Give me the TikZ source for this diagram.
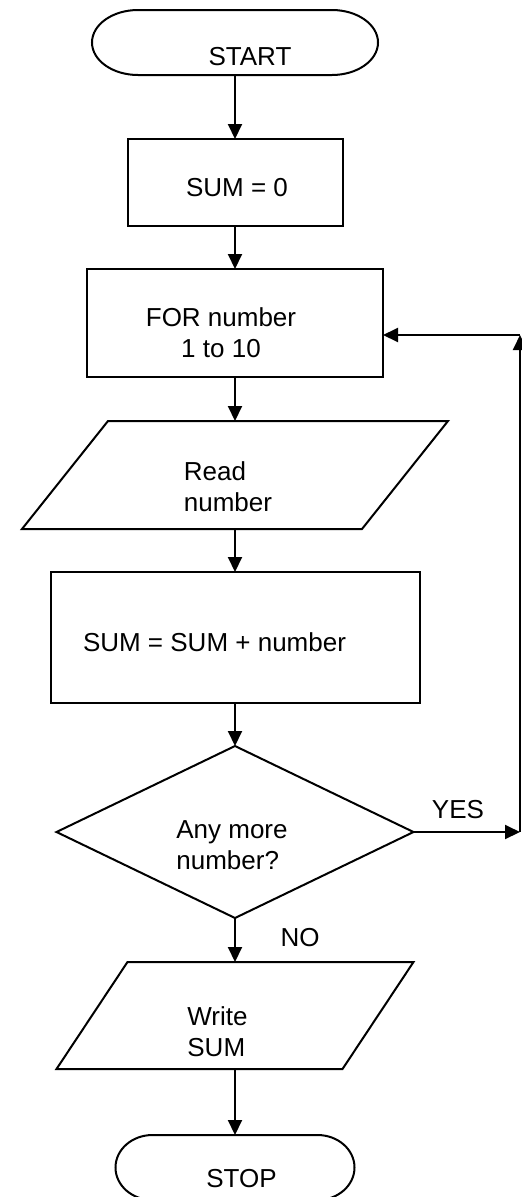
\documentclass[tikz,border=0pt]{standalone}
\usepackage{fontspec}
\setmainfont{Liberation Sans}
\usetikzlibrary{shapes.geometric,arrows.meta}

\tikzset{
  every node/.style={font=\fontsize{26}{31}\selectfont},
  flowline/.style={line width=2pt},
  termbox/.style={rectangle,inner sep=0,outer sep=0},
  procbox/.style={draw,rectangle,line width=2pt,inner sep=0,outer sep=0},
  iobox/.style={rectangle,inner sep=0,outer sep=0},
  decbox/.style={draw,diamond,line width=2pt,inner sep=0,outer sep=0},
}

\begin{document}
\begin{tikzpicture}[x=1pt,y=-1pt,>={Triangle[length=15pt,width=14pt]}]
    \useasboundingbox (0,0) rectangle (522,1197);

    % shapes
    \node[termbox,minimum width=286pt,minimum height=65pt] (start) at (235,42.5) {};
    \draw[flowline] ([xshift=46pt]start.north west) -- ([xshift=-46pt]start.north east)
        arc[start angle=90,end angle=-90,x radius=46pt,y radius=32.5pt]
        -- ([xshift=46pt]start.south west)
        arc[start angle=270,end angle=90,x radius=46pt,y radius=32.5pt] -- cycle;
    \node[procbox,minimum width=215pt,minimum height=87pt] (sumzero) at (235,182.5) {};
    \node[procbox,minimum width=296pt,minimum height=108pt] (fornum) at (235,323) {};
    \node[iobox,minimum width=426pt,minimum height=108pt] (read) at (235,475) {};
    \draw[flowline] (read.south west) -- ([xshift=-86pt]read.south east) -- (read.north east)
        -- ([xshift=86pt]read.north west) -- cycle;
    \node[procbox,minimum width=369pt,minimum height=131pt] (sumadd) at (235,637.5) {};
    \node[decbox,minimum width=357pt,minimum height=172pt] (more) at (235,832) {};
    \node[iobox,minimum width=357pt,minimum height=107pt] (write) at (235,1015.5) {};
    \draw[flowline] (write.south west) -- ([xshift=-71pt]write.south east) -- (write.north east)
        -- ([xshift=71pt]write.north west) -- cycle;
    \node[termbox,minimum width=239pt,minimum height=65pt] (stop) at (235,1167.5) {};
    \draw[flowline] ([xshift=37pt]stop.north west) -- ([xshift=-37pt]stop.north east)
        arc[start angle=90,end angle=-90,x radius=37pt,y radius=32.5pt]
        -- ([xshift=37pt]stop.south west)
        arc[start angle=270,end angle=90,x radius=37pt,y radius=32.5pt] -- cycle;

    % texts
    \node (starttext) at ([shift={(15,14)}]start.center) {START};
    \node (sumzerotext) at ([shift={(2,5)}]sumzero.center) {SUM = 0};
    \node[align=center] (fortext) at ([shift={(-14,10)}]fornum.center) {FOR number\\1 to 10};
    \node[align=left] (readtext) at ([shift={(-7,12)}]read.center) {Read\\number};
    \node (sumaddtext) at ([shift={(-20.5,5)}]sumadd.center) {SUM = SUM + number};
    \node[align=left] (moretext) at ([shift={(-3,13)}]more.center) {Any more\\number?};
    \node[align=left] (writetext) at ([shift={(-17.5,16.5)}]write.center) {Write\\SUM};
    \node (stoptext) at ([shift={(6.5,11.5)}]stop.center) {STOP};
    \node (yes) at (458,810) {YES};
    \node (no) at (300,937.5) {NO};

    % connectors
    \coordinate (yesend) at (520,832);
    \coordinate (looptop) at (520,335);
    \draw[flowline,->] (start) -- (sumzero);
    \draw[flowline,->] (sumzero) -- (fornum);
    \draw[flowline,->] (fornum) -- (read);
    \draw[flowline,->] (read) -- (sumadd);
    \draw[flowline,->] (sumadd) -- (more);
    \draw[flowline,->] (more) -- (write);
    \draw[flowline,->] (write) -- (stop);
    \draw[flowline,->] (more.east) -- (yesend);
    \draw[flowline,->] (yesend) -- (looptop);
    \draw[flowline,->] (looptop) -- (fornum.east |- looptop);
\end{tikzpicture}
\end{document}
